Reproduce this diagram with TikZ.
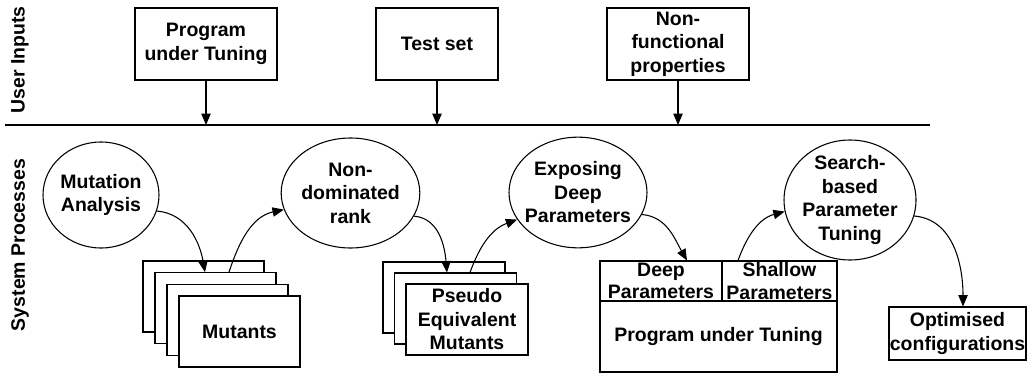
\documentclass[tikz,border=0pt]{standalone}
\usepackage{fontspec}
\setmainfont{Liberation Sans}
\usetikzlibrary{arrows.meta,shapes.geometric,calc}
\tikzset{
  lbl/.style={font=\fontsize{14.6}{17.6}\selectfont\bfseries, align=center},
  box/.style={lbl, draw, line width=0.8pt, fill=white, inner sep=0pt, rectangle},
  cell/.style={box, font=\fontsize{14.6}{17}\selectfont\bfseries},
  proc/.style={lbl, draw, line width=0.8pt, ellipse, inner xsep=-12pt, inner ysep=-6pt},
  arr/.style={line width=0.8pt, -{Triangle[length=8.5pt,width=7pt]}},
}
\begin{document}
\begin{tikzpicture}[x=0.75pt,y=-0.75pt]
\useasboundingbox (0,0) rectangle (1030,374);
% side labels
\node[lbl, rotate=90] (ui) at (20,60) {User Inputs};
\node[lbl, rotate=90] (sp) at (20,245) {System Processes};
% separator
\coordinate (lineL) at (5,125);
\coordinate (lineR) at (930,125);
\draw[line width=0.8pt] (lineL) -- (lineR);
% user inputs
\node[box, minimum width=106.5pt, minimum height=54pt] (pin) at (206,44) {Program\\under Tuning};
\node[box, minimum width=91.5pt, minimum height=54pt] (ts) at (437,44) {Test set};
\node[box, minimum width=106.5pt, minimum height=54pt] (nf) at (678,44) {Non-\\functional\\properties};
\draw[arr] (pin) -- (pin |- lineL);
\draw[arr] (ts) -- (ts |- lineL);
\draw[arr] (nf) -- (nf |- lineL);
% processes
\node[proc, minimum width=87pt, minimum height=79.5pt] (ma) at (101,195) {Mutation\\Analysis};
\node[proc, minimum width=104pt, minimum height=82.5pt] (nd) at (350.5,193) {Non-\\dominated\\rank};
\node[proc, minimum width=103.5pt, minimum height=83pt] (edp) at (578,192.5) {Exposing\\Deep\\Parameters};
\node[proc, minimum width=99pt, minimum height=90pt] (spt) at (850,200) {Search-\\based\\Parameter\\Tuning};
% mutants stack
\node[box, minimum width=90.75pt, minimum height=53.25pt] (m1) at (203.5,296.5) {};
\node[box, minimum width=90.75pt, minimum height=53.25pt] (m2) at (215.5,308.2) {};
\node[box, minimum width=90.75pt, minimum height=53.25pt] (m3) at (227.5,319.8) {};
\node[box, minimum width=90.75pt, minimum height=53.25pt] (mut) at (239.5,331.5) {Mutants};
% pseudo stack
\node[box, minimum width=91.5pt, minimum height=53.25pt] (p1) at (444,297.5) {};
\node[box, minimum width=91.5pt, minimum height=53.25pt] (p2) at (455.5,308.5) {};
\node[box, minimum width=91.5pt, minimum height=53.25pt] (pem) at (467,319.5) {Pseudo\\Equivalent\\Mutants};
% program under tuning
\node[cell, minimum width=91.5pt, minimum height=30pt] (deep) at (661,281) {Deep\\Parameters};
\node[cell, minimum width=86.25pt, minimum height=30pt] (shal) at (779.5,281) {Shallow\\Parameters};
\node[box, minimum width=177.75pt, minimum height=53.25pt] (put) at (718.5,336.5) {Program under Tuning};
% output
\node[box, minimum width=102.75pt, minimum height=39.75pt] (opt) at (957.5,333.5) {Optimised\\configurations};
% connectors
\draw[arr] (ma.-16) to[out=-5,in=100] ([xshift=-10.5*0.75pt]m2.north);
\draw[arr] ([xshift=13.5*0.75pt]m2.north) to[out=72,in=192] (nd.194);
\draw[arr] (nd.-20) to[out=-5,in=95] ([xshift=-8.5*0.75pt]p2.north);
\draw[arr] ([xshift=14.5*0.75pt]p2.north) to[out=70,in=200] (edp.204);
\draw[arr] (edp.-19) to[out=-5,in=120] ([xshift=26*0.75pt]deep.north);
\draw[arr] ([xshift=-41.5*0.75pt]shal.north) to[out=70,in=195] (spt.190);
\draw[arr] (spt.-14) to[out=-5,in=90] ([xshift=5.5*0.75pt]opt.north);
\end{tikzpicture}
\end{document}
